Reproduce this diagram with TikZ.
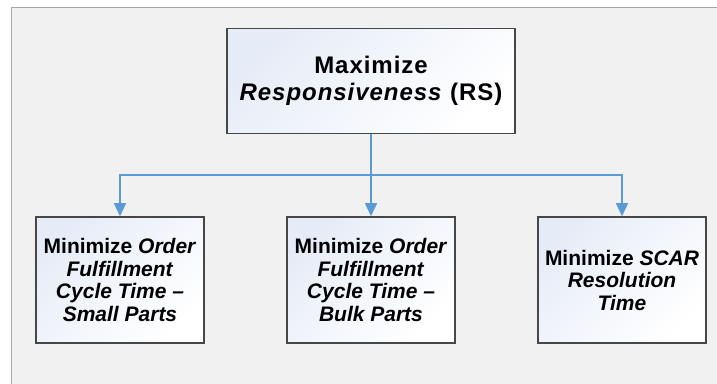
\documentclass[tikz,border=0pt]{standalone}
\usepackage{fontspec}
\setmainfont{Liberation Sans}
\usetikzlibrary{arrows.meta}
\definecolor{panelfill}{HTML}{F1F1F1}
\definecolor{panelline}{HTML}{A6A6A6}
\definecolor{boxline}{HTML}{474747}
\definecolor{boxtint}{HTML}{E6ECF7}
\definecolor{linkblue}{HTML}{5B9BD5}
\tikzset{
  x=1pt, y=-1pt,
  goal/.style={draw=boxline, line width=1.6pt, left color=boxtint, right color=white,
    shading angle=45, align=center, inner sep=1pt},
  topgoal/.style={goal, minimum width=288pt, minimum height=105pt,
    font=\bfseries\fontsize{24}{27}\selectfont\addfontfeature{LetterSpace=4}},
  subgoal/.style={goal, minimum width=168pt, minimum height=126pt,
    font=\bfseries\fontsize{21}{22.5}\selectfont},
  link/.style={draw=linkblue, line width=1.5pt, -{Triangle[length=13pt,width=12pt]}}
}
\begin{document}
\begin{tikzpicture}
\useasboundingbox (0,0) rectangle (717,383);
% background panel
\draw[panelline, fill=panelfill, line width=1pt] (11,7) rectangle (730,400);
% goal boxes
\node[topgoal] (top) at (371,81) {Maximize\\\textit{Responsiveness} (RS)};
\node[subgoal] (small) at (120,280) {Minimize \textit{Order}\\\textit{Fulfillment}\\\textit{Cycle Time --}\\\textit{Small Parts}};
\node[subgoal] (bulk) at (371,280) {Minimize \textit{Order}\\\textit{Fulfillment}\\\textit{Cycle Time --}\\\textit{Bulk Parts}};
\node[subgoal] (scar) at (622,280) {Minimize \textit{SCAR}\\\textit{Resolution}\\\textit{Time}};
% connectors
\coordinate (split) at (371,175);
\draw[link] (top.south) -- (bulk.north);
\draw[link] (split) -| (small.north);
\draw[link] (split) -| (scar.north);
\end{tikzpicture}
\end{document}
